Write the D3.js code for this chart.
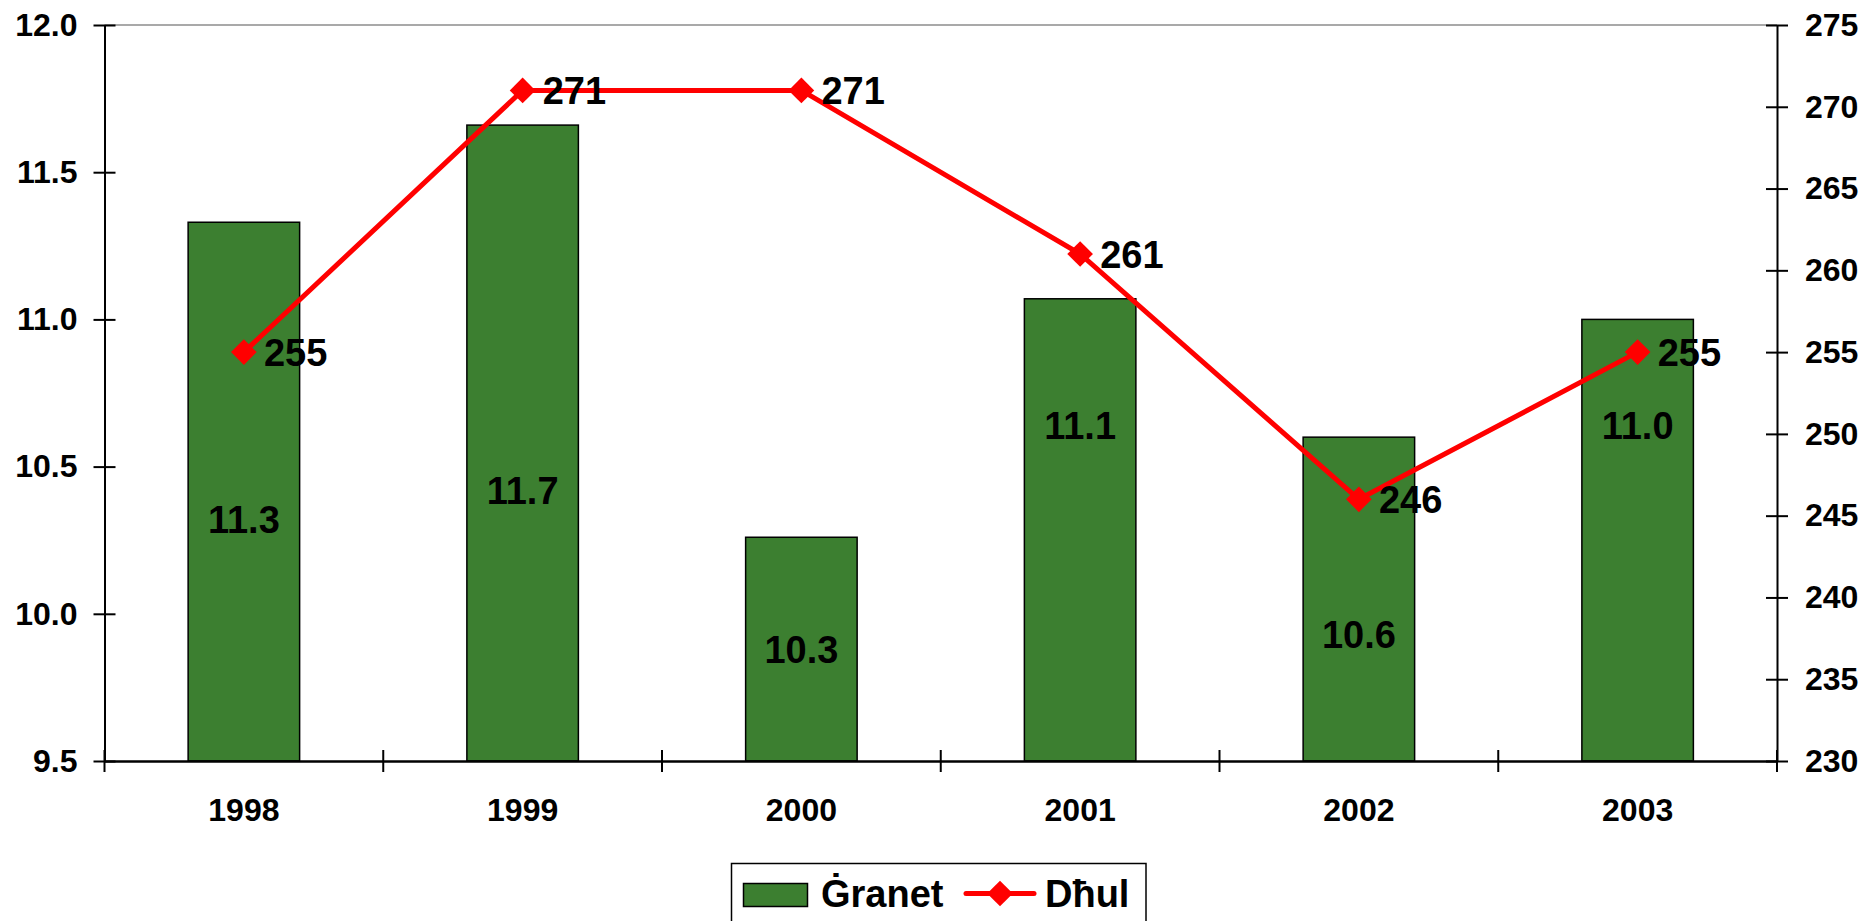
<!DOCTYPE html>
<html>
<head>
<meta charset="utf-8">
<script src="https://cdn.jsdelivr.net/npm/d3@7/dist/d3.min.js"></script>
<style>
  html, body { margin: 0; padding: 0; background: #fff; }
  svg { display: block; font-family: "Liberation Sans", Arial, sans-serif; font-weight: bold; }
</style>
</head>
<body>
<svg id="chart" width="1863" height="921"></svg>
<script>
// ---- data ----
const years = ["1998", "1999", "2000", "2001", "2002", "2003"];
const granet = [11.33, 11.66, 10.26, 11.07, 10.6, 11.0];
const granetLabels = ["11.3", "11.7", "10.3", "11.1", "10.6", "11.0"];
const granetLabelAt = [10.32, 10.42, 9.88, 10.64, 9.93, 10.64];
const dhul = [255, 271, 271, 261, 246, 255];
const leftTicks = [9.5, 10.0, 10.5, 11.0, 11.5, 12.0];
const rightTicks = [230, 235, 240, 245, 250, 255, 260, 265, 270, 275];
const seriesNames = ["Ġranet", "Dħul"];

// ---- layout ----
const L = 104.5, R = 1777, T = 25, B = 761;
const barColor = "#3c7f30", lineColor = "#ff0000";

const svg = d3.select("#chart");

const x = d3.scaleBand().domain(years).range([L, R]).paddingInner(0.6).paddingOuter(0.3);
const yL = d3.scaleLinear().domain([9.5, 12.0]).range([B, T]);
const yR = d3.scaleLinear().domain([230, 275]).range([B, T]);
const cx = d => x(d) + x.bandwidth() / 2;

// top border
svg.append("line").attr("x1", L).attr("x2", R).attr("y1", T).attr("y2", T)
  .attr("stroke", "#8c8c8c").attr("stroke-width", 1.5);

// bars
svg.append("g").selectAll("rect").data(years).join("rect")
  .attr("x", d => x(d)).attr("width", x.bandwidth())
  .attr("y", (d, i) => yL(granet[i])).attr("height", (d, i) => B - yL(granet[i]))
  .attr("fill", barColor).attr("stroke", "#000").attr("stroke-width", 1.5);

// bar labels
svg.append("g").selectAll("text").data(years).join("text")
  .attr("x", d => cx(d)).attr("y", (d, i) => yL(granetLabelAt[i]))
  .attr("dy", "0.36em").attr("text-anchor", "middle")
  .attr("font-size", 38).attr("fill", "#000")
  .text((d, i) => granetLabels[i]);

// left axis
const axL = svg.append("g").attr("transform", `translate(${L},0)`)
  .call(d3.axisLeft(yL).tickValues(leftTicks).tickFormat(d3.format(".1f")).tickSize(0).tickPadding(27));
axL.select(".domain").attr("stroke", "#000").attr("stroke-width", 2);
axL.selectAll("text").attr("font-size", 32).attr("font-family", "Liberation Sans, Arial").attr("font-weight", "bold").attr("fill", "#000");
axL.selectAll(".tick").append("line").attr("x1", -11).attr("x2", 11).attr("stroke", "#000").attr("stroke-width", 2);

// right axis
const axR = svg.append("g").attr("transform", `translate(${R},0)`)
  .call(d3.axisRight(yR).tickValues(rightTicks).tickSize(0).tickPadding(28));
axR.select(".domain").attr("stroke", "#000").attr("stroke-width", 2);
axR.selectAll("text").attr("font-size", 32).attr("font-family", "Liberation Sans, Arial").attr("font-weight", "bold").attr("fill", "#000");
axR.selectAll(".tick").append("line").attr("x1", -11).attr("x2", 11).attr("stroke", "#000").attr("stroke-width", 2);

// bottom axis
const axB = svg.append("g").attr("transform", `translate(0,${B})`)
  .call(d3.axisBottom(x).tickSize(0).tickPadding(0));
axB.select(".domain").attr("stroke", "#000").attr("stroke-width", 2.5);
axB.selectAll("text").attr("font-size", 32).attr("font-family", "Liberation Sans, Arial").attr("font-weight", "bold").attr("fill", "#000")
  .attr("y", 37).attr("dy", "0.71em");
const bounds = years.map(d => x(d) - x.step() * x.paddingInner() / 2).concat([R]);
bounds[0] = L;
svg.append("g").selectAll("line").data(bounds).join("line")
  .attr("x1", d => d).attr("x2", d => d).attr("y1", B - 11).attr("y2", B + 11)
  .attr("stroke", "#000").attr("stroke-width", 2);

// line series
const line = d3.line().x((d, i) => cx(years[i])).y(d => yR(d));
svg.append("path").datum(dhul).attr("d", line)
  .attr("fill", "none").attr("stroke", lineColor).attr("stroke-width", 5).attr("stroke-linejoin", "round");
const diamond = d3.symbol().type(d3.symbolSquare).size(330);
svg.append("g").selectAll("path").data(dhul).join("path")
  .attr("d", diamond)
  .attr("transform", (d, i) => `translate(${cx(years[i])},${yR(d)}) rotate(45)`)
  .attr("fill", lineColor);
svg.append("g").selectAll("text").data(dhul).join("text")
  .attr("x", (d, i) => cx(years[i]) + 20).attr("y", d => yR(d)).attr("dy", "0.36em")
  .attr("font-size", 38).attr("fill", "#000").text(d => d);

// legend
const lg = svg.append("g");
lg.append("rect").attr("x", 731.5).attr("y", 863.5).attr("width", 414.5).attr("height", 80)
  .attr("fill", "#fff").attr("stroke", "#000").attr("stroke-width", 1.5);
lg.append("rect").attr("x", 743.5).attr("y", 883.5).attr("width", 64).attr("height", 23)
  .attr("fill", barColor).attr("stroke", "#000").attr("stroke-width", 1.5);
lg.append("text").attr("x", 821).attr("y", 907).attr("font-size", 38).attr("fill", "#000").text(seriesNames[0]);
lg.append("line").attr("x1", 966).attr("x2", 1034).attr("y1", 893.5).attr("y2", 893.5)
  .attr("stroke", lineColor).attr("stroke-width", 5).attr("stroke-linecap", "round");
lg.append("path").attr("d", diamond).attr("transform", "translate(1000,893.5) rotate(45)").attr("fill", lineColor);
lg.append("text").attr("x", 1045).attr("y", 907).attr("font-size", 38).attr("fill", "#000").text(seriesNames[1]);
</script>
</body>
</html>
